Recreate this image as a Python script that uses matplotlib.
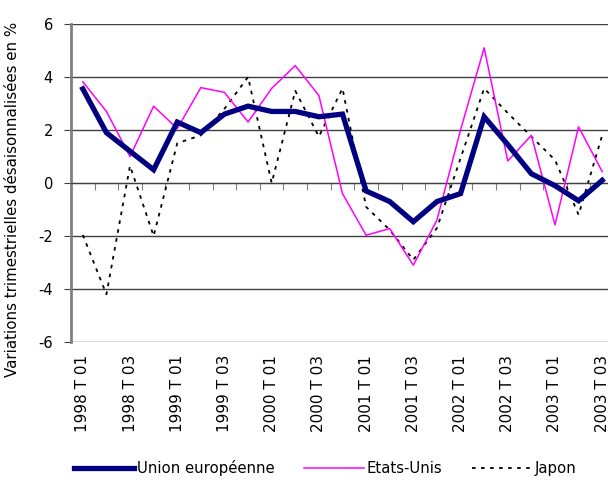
import matplotlib
matplotlib.use("Agg")
import matplotlib.pyplot as plt
import matplotlib.transforms as mtransforms

plt.rcParams["axes.unicode_minus"] = False

quarters = [f"{y} T 0{q}" for y in range(1998, 2004) for q in (1, 2, 3, 4)][:23]

ue = [3.55, 1.9, 1.2, 0.5, 2.3, 1.9, 2.6, 2.9, 2.7, 2.7, 2.5, 2.6,
      -0.3, -0.7, -1.46, -0.7, -0.4, 2.5, 1.45, 0.35, -0.1, -0.67, 0.1]
usa = [3.82, 2.7, 1.0, 2.9, 2.05, 3.6, 3.42, 2.3, 3.57, 4.43, 3.3, -0.4,
       -1.97, -1.72, -3.1, -1.4, 2.0, 5.1, 0.83, 1.8, -1.58, 2.12, 0.43]
japon = [-1.96, -4.2, 0.65, -2.0, 1.5, 1.8, 2.8, 4.0, 0.0, 3.48, 1.75, 3.57,
         -0.9, -1.77, -2.9, -1.7, 0.93, 3.57, 2.64, 1.75, 0.87, -1.2, 1.8]

fig = plt.figure(figsize=(6.08, 4.80), dpi=100)
ax = fig.add_axes([71 / 608, 1 - 342 / 480, 543 / 608, 318 / 480])

x = list(range(len(quarters)))
ax.plot(x, ue, color="#000080", lw=3.8, label="Union européenne", zorder=4,
        solid_joinstyle="miter")
ax.plot(x, usa, color="#FF00FF", lw=1.1, label="Etats-Unis", zorder=3)
ax.plot(x, japon, color="black", lw=1.3, ls=(0, (2, 3)), label="Japon", zorder=2)

ax.set_xlim(-0.5, len(quarters) - 0.5)
ax.set_ylim(-6, 6)
ax.set_yticks(range(-6, 7, 2))
ax.tick_params(axis="y", length=5, pad=8, direction="out", labelsize=10.5,
               color="#404040")
ax.yaxis.grid(True, color="#404040", lw=1)
ax.set_axisbelow(True)

for s in ("top", "right"):
    ax.spines[s].set_visible(False)
ax.spines["left"].set_color("#808080")
ax.spines["left"].set_linewidth(2)
ax.spines["bottom"].set_position(("data", 0))
ax.spines["bottom"].set_color("#404040")
ax.set_xticks([i - 0.5 for i in range(len(quarters) + 1)])
ax.set_xticklabels([])
ax.tick_params(axis="x", length=5, direction="out", color="#808080")

trans = mtransforms.blended_transform_factory(ax.transData, ax.transAxes)
for i in range(0, len(quarters), 2):
    ax.text(i, -0.04, quarters[i], transform=trans, rotation=90,
            ha="center", va="top", fontsize=11)

ax.set_ylabel("Variations trimestrielles désaisonnalisées en %", fontsize=10.8)
ax.yaxis.set_label_coords(-0.094, 0.45)

fig.legend(loc="lower center", bbox_to_anchor=(0.535, -0.02), ncol=3,
           frameon=False, fontsize=10.7, handlelength=4, columnspacing=2.0,
           handletextpad=0.2)

fig.savefig("out.png", dpi=100)
